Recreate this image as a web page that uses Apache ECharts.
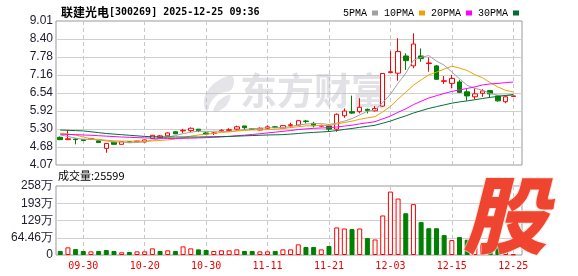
<!DOCTYPE html>
<html><head><meta charset="utf-8">
<script src="https://cdn.jsdelivr.net/npm/echarts@6/dist/echarts.min.js"></script>
<style>html,body{margin:0;padding:0;background:#fff}#c{width:578px;height:276px}</style>
</head><body><div id="c"></div>
<script>
const dates=['09-25','09-26','09-29','09-30','10-09','10-10','10-13','10-14','10-15','10-16','10-17','10-20','10-21','10-22','10-23','10-24','10-27','10-28','10-29','10-30','10-31','11-03','11-04','11-05','11-06','11-07','11-10','11-11','11-12','11-13','11-14','11-17','11-18','11-19','11-20','11-21','11-24','11-25','11-26','11-27','11-28','12-01','12-02','12-03','12-04','12-05','12-08','12-09','12-10','12-11','12-12','12-15','12-16','12-17','12-18','12-19','12-22','12-23','12-24','12-25'];
const opens=[5.02,4.94,4.96,4.95,4.96,4.90,4.64,4.85,4.78,4.87,4.87,4.86,4.98,5.01,5.07,5.21,5.24,5.25,5.30,5.17,5.15,5.24,5.26,5.30,5.41,5.31,5.27,5.33,5.38,5.33,5.43,5.44,5.58,5.50,5.40,5.41,5.30,5.76,5.90,5.90,5.98,5.93,6.09,7.24,7.22,7.81,7.47,7.81,7.55,7.47,6.94,6.87,6.92,6.58,6.41,6.53,6.62,6.44,6.24,6.42];
const closes=[4.94,4.97,4.94,4.91,4.98,4.84,4.81,4.78,4.87,4.86,4.89,4.93,5.09,5.07,5.17,5.14,5.26,5.33,5.25,5.13,5.17,5.26,5.28,5.38,5.35,5.30,5.33,5.38,5.36,5.42,5.45,5.59,5.56,5.42,5.43,5.30,5.81,5.92,5.85,6.05,5.94,6.01,7.21,7.27,7.96,7.65,8.22,7.72,7.57,7.01,6.96,7.04,6.56,6.44,6.51,6.61,6.51,6.27,6.41,6.44];
const lows=[4.92,4.93,4.78,4.89,4.94,4.83,4.49,4.77,4.77,4.85,4.86,4.85,4.97,5.00,5.06,5.13,5.17,5.19,5.20,5.10,5.10,5.21,5.21,5.25,5.27,5.28,5.25,5.30,5.33,5.31,5.36,5.43,5.50,5.36,5.37,5.21,5.21,5.69,5.82,5.84,5.84,5.90,6.07,7.22,6.96,7.33,7.39,7.61,7.27,7.01,6.85,6.70,6.55,6.27,6.32,6.41,6.39,6.24,6.19,6.40];
const highs=[5.05,5.27,4.99,4.96,5.00,4.91,4.82,4.86,4.88,4.88,4.90,4.94,5.10,5.10,5.19,5.22,5.31,5.36,5.30,5.20,5.20,5.30,5.33,5.42,5.41,5.33,5.36,5.43,5.41,5.44,5.52,5.60,5.62,5.55,5.45,5.47,5.84,6.01,6.45,6.36,6.01,6.09,7.21,7.98,8.42,7.90,8.59,8.07,7.76,7.50,7.12,7.16,6.99,6.67,6.70,6.67,6.64,6.47,6.47,6.46];
const volumes=[15,28.6,22,15,13.6,15,18.6,15,10,11.2,13.6,13.6,24.8,15,17.4,15,32.2,24.8,21,18.6,15,17.4,17.4,21,15,15,13.6,13.6,15,21,21,39.8,29.8,29.8,21,33.5,103,99,96.7,99,63.2,58,147.7,237,211,156,190,122.8,100,100,74.4,55.8,67,57,45,41,40,35,41,2.56];
const ma5=[5.10,5.05,4.99,4.95,4.948,4.928,4.896,4.864,4.856,4.832,4.842,4.866,4.928,4.968,5.03,5.08,5.146,5.194,5.23,5.222,5.228,5.228,5.218,5.244,5.288,5.314,5.328,5.348,5.344,5.358,5.388,5.44,5.476,5.488,5.49,5.46,5.504,5.576,5.662,5.786,5.914,5.954,6.212,6.496,6.878,7.22,7.662,7.764,7.824,7.634,7.496,7.26,7.028,6.802,6.702,6.632,6.526,6.468,6.462,6.448];
const ma10=[5.16,5.13,5.10,5.03,4.97,4.95,4.92,4.90,4.89,4.89,4.885,4.881,4.896,4.912,4.931,4.961,5.006,5.061,5.099,5.126,5.154,5.187,5.206,5.237,5.255,5.271,5.278,5.283,5.294,5.323,5.351,5.384,5.412,5.416,5.424,5.424,5.472,5.526,5.575,5.638,5.687,5.729,5.894,6.079,6.332,6.567,6.808,6.988,7.16,7.256,7.358,7.461,7.396,7.313,7.168,7.064,6.893,6.748,6.632,6.575];
const ma20=[5.125,5.12,5.11,5.10,5.09,5.075,5.06,5.045,5.03,5.02,5.01,5.00,4.99,4.985,4.98,4.98,4.985,4.99,5.00,5.008,5.02,5.034,5.051,5.075,5.093,5.116,5.142,5.172,5.197,5.225,5.253,5.286,5.309,5.327,5.340,5.348,5.375,5.405,5.435,5.481,5.519,5.557,5.653,5.748,5.878,5.996,6.14,6.257,6.368,6.447,6.523,6.595,6.645,6.696,6.75,6.816,6.851,6.868,6.896,6.916];
const ma30=[5.27,5.26,5.25,5.24,5.21,5.18,5.15,5.13,5.11,5.09,5.07,5.05,5.04,5.035,5.03,5.03,5.03,5.03,5.03,5.035,5.04,5.045,5.05,5.06,5.07,5.08,5.09,5.10,5.105,5.113,5.13,5.151,5.171,5.188,5.203,5.219,5.252,5.29,5.323,5.362,5.397,5.433,5.504,5.577,5.670,5.754,5.853,5.932,6.010,6.072,6.132,6.191,6.234,6.269,6.308,6.352,6.391,6.421,6.456,6.490];
const priceTicks=['4.07','4.68','5.30','5.92','6.54','7.16','7.78','8.40','9.01'];
const volTicks=['0','64.46万','129万','193万','258万'];
const labelDates=['09-30','10-20','10-30','11-11','11-21','12-03','12-15','12-25'];
const priceMin=4.07, priceMax=9.01, volMax=257.84;

const UP='#ff0000', DOWN='#008000';
const chart=echarts.init(document.getElementById('c'),null,{renderer:'canvas'});
const showLbl=(i,v)=>labelDates.indexOf(v)>=0;
const frameX=(gi)=>({type:'value',gridIndex:gi,min:0,max:1,show:false});
const frameY=(gi,ticks)=>({type:'value',gridIndex:gi,min:0,max:ticks.length-1,interval:1,
  axisLine:{show:false},axisTick:{show:false},
  axisLabel:{formatter:v=>ticks[v],fontFamily:'Liberation Sans',fontSize:12,color:'#1c1c2c',margin:3},
  splitLine:{show:true,showMinLine:false,showMaxLine:false,lineStyle:{color:'#d0d0d0',width:1}}});
const dataX=(gi,labels)=>({type:'category',gridIndex:gi,data:dates,boundaryGap:true,
  axisLine:{show:false},axisTick:{show:false},
  axisLabel:{show:labels,interval:showLbl,color:'#ee0000',fontFamily:'DejaVu Sans Mono',fontSize:10,margin:6},
  splitLine:{show:true,interval:showLbl,alignWithLabel:true,lineStyle:{color:'#c8c8c8',type:[4,3],width:1}}});
const dataY=(gi,mn,mx)=>({type:'value',gridIndex:gi,min:mn,max:mx,show:false,splitLine:{show:false}});

const volData=volumes.map((v,i)=>{
  const up=i===0?closes[0]>=opens[0]:closes[i]>=closes[i-1];
  return {value:v,itemStyle:up?{color:'#ffffff',borderColor:UP,borderWidth:1}:{color:DOWN,borderColor:DOWN,borderWidth:1}};
});
const kData=dates.map((d,i)=>[opens[i],closes[i],lows[i],highs[i]]);
const maLine=(name,data,color)=>({name,type:'line',xAxisIndex:1,yAxisIndex:1,data,showSymbol:false,symbol:'none',
  smooth:false,lineStyle:{color,width:1},itemStyle:{color},z:5,animation:false});

chart.setOption({
  animation:false,
  title:{text:'{a|联建光电}{b|[300269] 2025-12-25 09:36}',left:56,top:1,
    textStyle:{rich:{a:{fontFamily:'Noto Sans CJK SC',fontSize:12,color:'#000'},b:{fontFamily:'DejaVu Sans Mono',fontSize:10,color:'#000'}}}},
  legend:{left:338,top:3,selectedMode:false,icon:'rect',itemWidth:6,itemHeight:5,align:'right',itemGap:6,
    textStyle:{fontFamily:'Liberation Mono',fontSize:10,color:'#000'},
    data:['5PMA','10PMA','20PMA','30PMA']},
  grid:[
    {left:56,top:21,width:466,height:144,show:true,borderColor:'#999',borderWidth:1,backgroundColor:'transparent'},
    {left:56.4,top:21,width:460.7,height:144},
    {left:56,top:186,width:466,height:69,show:true,borderColor:'#999',borderWidth:1,backgroundColor:'transparent'},
    {left:56.4,top:186,width:460.7,height:69}
  ],
  xAxis:[frameX(0),dataX(1,false),frameX(2),dataX(3,true)],
  yAxis:[frameY(0,priceTicks),dataY(1,priceMin,priceMax),frameY(2,volTicks),dataY(3,0,volMax)],
  graphic:[
    {type:'text',left:58,top:170,style:{text:'成交量:25599',font:'11px "Noto Sans CJK SC"',fill:'#000'}},
    {type:'polygon',z:1,shape:{points:[[232,76],[216,82],[206,94],[204,104],[207,112],[211,102],[219,94],[232,89]],smooth:0.4},style:{fill:'rgba(190,190,200,0.4)'}},
    {type:'polygon',z:1,shape:{points:[[230,95],[221,99],[215,106],[214,112],[222,109],[228,103]],smooth:0.4},style:{fill:'rgba(190,190,200,0.4)'}},
    {type:'text',left:240,top:72,z:1,style:{text:'东方财富',font:'bold 37px "Noto Sans CJK SC"',fill:'rgba(190,190,200,0.45)'}},
    {type:'text',left:462,top:172,z:100,style:{text:'股',font:'italic 900 84px "Noto Sans CJK SC"',fill:'#ee4430',stroke:'rgba(255,220,210,0.7)',lineWidth:2}}
  ],
  series:[
    {name:'K',type:'candlestick',xAxisIndex:1,yAxisIndex:1,data:kData,barWidth:5,z:3,
      itemStyle:{color:'#ffffff',color0:DOWN,borderColor:UP,borderColor0:DOWN,borderWidth:1}},
    maLine('5PMA',ma5,'#a0a0a0'),
    maLine('10PMA',ma10,'#f0a000'),
    maLine('20PMA',ma20,'#ff00ff'),
    maLine('30PMA',ma30,'#006f35'),
    {name:'VOL',type:'bar',xAxisIndex:3,yAxisIndex:3,data:volData,barWidth:5}
  ]
});
</script></body></html>
